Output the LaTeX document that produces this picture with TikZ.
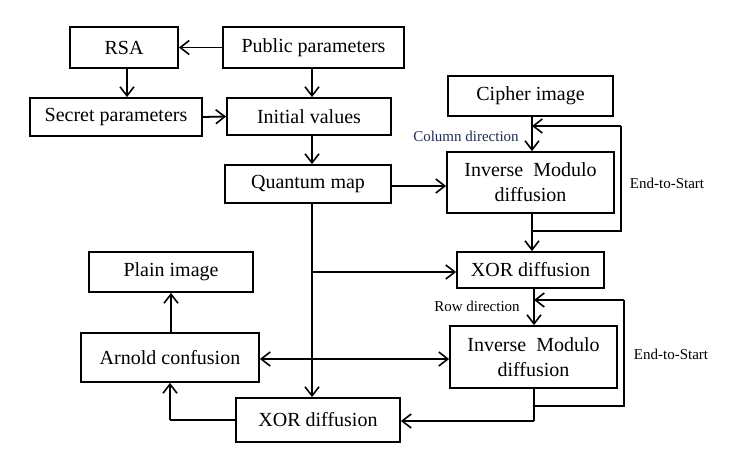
\documentclass[tikz,border=0pt]{standalone}
\usepackage{fontspec}
\setmainfont{Liberation Serif}
\usetikzlibrary{arrows.meta,calc}
\definecolor{navytext}{HTML}{1F2D50}
\begin{document}
\begin{tikzpicture}[x=1pt,y=-1pt,
  box/.style={draw,line width=1.8pt,inner sep=0pt,align=center,
    font=\fontsize{20}{25}\selectfont},
  conn/.style={line width=1.8pt,-{Straight Barb[length=9pt,width=14pt,line width=1.6pt]}},
  dconn/.style={line width=1.8pt,{Straight Barb[length=9pt,width=14pt,line width=1.6pt]}-{Straight Barb[length=9pt,width=14pt,line width=1.6pt]}},
  wire/.style={line width=1.8pt},
  lab/.style={font=\fontsize{15}{18}\selectfont,inner sep=0pt}]
\useasboundingbox (0,0) rectangle (747,450);
\node[box,minimum width=108pt,minimum height=41pt] (rsa) at (124,47.5) {RSA};
\node[box,minimum width=181pt,minimum height=41pt] (pub) at (313.5,47.5) {Public parameters};
\node[box,minimum width=172pt,minimum height=38pt] (sec) at (116,117) {Secret parameters};
\node[box,minimum width=164pt,minimum height=37pt] (ini) at (309,116.5) {Initial values};
\node[box,minimum width=166pt,minimum height=38pt] (qm) at (308,184) {Quantum map};
\node[box,minimum width=165pt,minimum height=40pt] (cip) at (530.5,96) {Cipher image};
\node[box,minimum width=167pt,minimum height=61pt] (inv1) at (530.5,182.5) {Inverse\ \ Modulo\\diffusion};
\node[box,minimum width=147pt,minimum height=36pt] (xor1) at (530.5,270) {XOR diffusion};
\node[box,minimum width=167pt,minimum height=62pt] (inv2) at (533.5,357) {Inverse\ \ Modulo\\diffusion};
\node[box,minimum width=164pt,minimum height=40pt] (plain) at (171,272) {Plain image};
\node[box,minimum width=178pt,minimum height=49pt] (arn) at (170,357.5) {Arnold confusion};
\node[box,minimum width=164pt,minimum height=44pt] (xor2) at (318,420) {XOR diffusion};

\coordinate (vl) at (312,0);
\coordinate (vr) at (127,0);
\coordinate (c1) at (532,0);
\coordinate (c2) at (534,0);
\coordinate (l1t) at (621,126);
\coordinate (l1b) at (621,231);
\coordinate (l2t) at (624,300);
\coordinate (l2b) at (624,406);
\coordinate (br) at (312,272);
\coordinate (bx) at (170,420);
\coordinate (by) at (534,421);
\coordinate (qy) at (0,186);
\coordinate (dy) at (0,359);

\draw[conn] (pub.west) -- (rsa.east);
\draw[conn] (rsa.south -| vr) -- (sec.north -| vr);
\draw[conn] (pub.south -| vl) -- (ini.north -| vl);
\draw[conn] (sec.east) -- (ini.west);
\draw[conn] (ini.south -| vl) -- (qm.north -| vl);
\draw[conn] (qm.east |- qy) -- (inv1.west |- qy);
\draw[conn] (qm.south -| vl) -- (xor2.north -| vl);
\draw[conn] (br) -- (br -| xor1.west);

\draw[conn] (cip.south -| c1) -- (inv1.north -| c1);
\draw[wire] (inv1.south -| c1) -- (l1b -| c1) -- (l1b) -- (l1t);
\draw[conn] (l1t) -- (l1t -| c1);
\draw[conn] (l1b -| c1) -- (xor1.north -| c1);
\node[lab,text=navytext] (coldir) at (466,136) {Column direction};
\node[lab] (es1) at (667,183) {End-to-Start};

\draw[conn] (xor1.south -| c2) -- (inv2.north -| c2);
\draw[wire] (inv2.south -| c2) -- (l2b -| c2) -- (l2b) -- (l2t);
\draw[conn] (l2t) -- (l2t -| c2);
\node[lab] (rowdir) at (477,306) {Row direction};
\node[lab] (es2) at (671,354) {End-to-Start};

\draw[wire] (l2b -| c2) -- (by);
\draw[conn] (by) -- (by -| xor2.east);
\draw[wire] (xor2.west) -- (bx);
\draw[conn] (bx) -- (arn.south -| bx);
\draw[conn] (arn.north -| plain.south) -- (plain.south);
\draw[dconn] (arn.east |- dy) -- (inv2.west |- dy);
\end{tikzpicture}
\end{document}
